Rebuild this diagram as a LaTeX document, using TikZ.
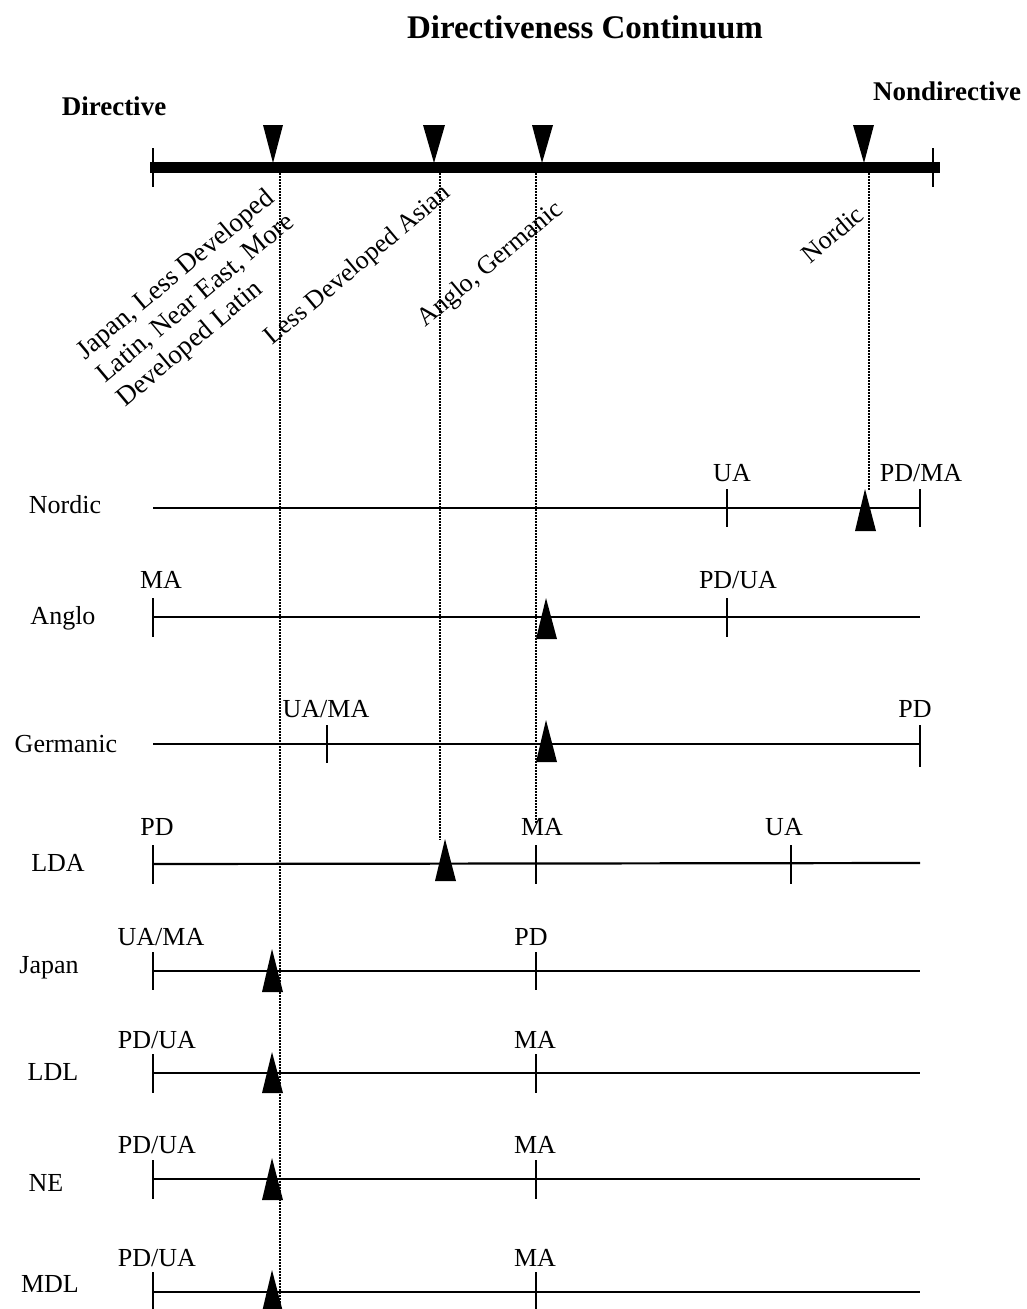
\documentclass[tikz,border=0pt]{standalone}
\usepackage{fontspec}
\setmainfont{Liberation Serif}
\begin{document}
\begin{tikzpicture}[x=1pt,y=-1pt,
  lbl/.style={font=\fontsize{26}{31}\selectfont, inner sep=0pt, anchor=base},
  boldlbl/.style={font=\fontsize{27}{32}\selectfont\bfseries, inner sep=0pt, anchor=base},
  rotlbl/.style={font=\fontsize{26}{31}\selectfont, inner sep=0pt, rotate=40},
  mainbar/.style={line width=11pt},
  bartick/.style={line width=2pt},
  rowline/.style={line width=2.2pt},
  rowtick/.style={line width=1.6pt},
  guide/.style={line width=2pt, dash pattern=on 2pt off 1pt},
  tri/.style={fill=black}]
\useasboundingbox (0,0) rectangle (1026,1309);
\clip (0,0) rectangle (1026,1309);

% title and ends
\node[font=\fontsize{33}{40}\selectfont\bfseries, inner sep=0pt, anchor=base] (title) at (585,38) {Directiveness Continuum};
\node[boldlbl] (dir) at (114,115) {Directive};
\node[boldlbl] (nondir) at (947,100) {Nondirective};

% main bar
\coordinate (barL) at (150,167);
\coordinate (barR) at (940,167);
\draw[mainbar] (barL) -- (barR);
\draw[bartick] (153,148) -- (153,187);
\draw[bartick] (933,148) -- (933,187);

% down triangles
\fill[tri] (263,125) -- (283,125) -- (273,163) -- cycle;
\fill[tri] (423,125) -- (445,125) -- (434,163) -- cycle;
\fill[tri] (532,125) -- (553,125) -- (542,163) -- cycle;
\fill[tri] (853,125) -- (874,125) -- (864,163) -- cycle;

% rotated labels
\node[rotlbl, font=\fontsize{27}{31}\selectfont, align=left, anchor=west] (cl1) at (101,379) {Japan, Less Developed\\Latin, Near East, More\\Developed Latin};
\node[rotlbl, anchor=center] (cl2) at (358,266) {Less Developed Asian};
\node[rotlbl, anchor=center] (cl3) at (491,265) {Anglo, Germanic};
\node[rotlbl, anchor=center] (cl4) at (832,234) {Nordic};

% guide coordinates
\coordinate (g1top) at (280,173);
\coordinate (g1bot) at (280,1309);
\coordinate (g2top) at (440,173);
\coordinate (g2bot) at (440,840);
\coordinate (g3top) at (536,173);
\coordinate (g3bot) at (536,823);
\coordinate (g4top) at (869,173);
\coordinate (g4bot) at (869,490);
\draw[guide] (g1top) -- (g1bot);
\draw[guide] (g2top) -- (g2bot);
\draw[guide] (g3top) -- (g3bot);
\draw[guide] (g4top) -- (g4bot);

% Nordic row
\node[lbl] (rNordic) at (65,513) {Nordic};
\draw[rowline] (153,508) -- (920,508);
\draw[rowtick] (727,489) -- (727,527);
\draw[rowtick] (920,489) -- (920,527);
\node[lbl] (nUA) at (732,481) {UA};
\node[lbl] (nPDMA) at (921,481) {PD/MA};
\fill[tri] (855,531) -- (876,531) -- (865,489) -- cycle;

% Anglo row
\node[lbl] (rAnglo) at (63,624) {Anglo};
\draw[rowline] (153,617) -- (920,617);
\draw[rowtick] (153,598) -- (153,637);
\draw[rowtick] (727,598) -- (727,637);
\node[lbl] (aMA) at (161,588) {MA};
\node[lbl] (aPDUA) at (738,588) {PD/UA};
\fill[tri] (536,639) -- (557,639) -- (546,598) -- cycle;

% Germanic row
\node[lbl] (rGermanic) at (66,752) {Germanic};
\draw[rowline] (153,744) -- (920,744);
\draw[rowtick] (327,725) -- (327,763);
\draw[rowtick] (920,725) -- (920,767);
\node[lbl] (gUAMA) at (326,717) {UA/MA};
\node[lbl] (gPD) at (915,717) {PD};
\fill[tri] (536,762) -- (557,762) -- (546,720) -- cycle;

% LDA row
\node[lbl] (rLDA) at (58,871) {LDA};
\draw[rowline] (153,864) -- (920,863);
\draw[rowtick] (153,845) -- (153,884);
\draw[rowtick] (536,845) -- (536,884);
\draw[rowtick] (791,845) -- (791,884);
\node[lbl] (lPD) at (157,835) {PD};
\node[lbl] (lMA) at (542,835) {MA};
\node[lbl] (lUA) at (784,835) {UA};
\fill[tri] (435,881) -- (456,881) -- (445,839) -- cycle;

% Japan row
\node[lbl] (rJapan) at (49,973) {Japan};
\draw[rowline] (153,971) -- (920,971);
\draw[rowtick] (153,952) -- (153,990);
\draw[rowtick] (536,952) -- (536,990);
\node[lbl] (jUAMA) at (161,945) {UA/MA};
\node[lbl] (jPD) at (531,945) {PD};
\fill[tri] (262,992) -- (283,992) -- (272,949) -- cycle;

% LDL row
\node[lbl] (rLDL) at (53,1080) {LDL};
\draw[rowline] (153,1073) -- (920,1073);
\draw[rowtick] (153,1054) -- (153,1093);
\draw[rowtick] (536,1054) -- (536,1093);
\node[lbl] (ldPDUA) at (157,1048) {PD/UA};
\node[lbl] (ldMA) at (535,1048) {MA};
\fill[tri] (262,1093) -- (283,1093) -- (272,1052) -- cycle;

% NE row
\node[lbl] (rNE) at (46,1191) {NE};
\draw[rowline] (153,1179) -- (920,1179);
\draw[rowtick] (153,1160) -- (153,1199);
\draw[rowtick] (536,1160) -- (536,1199);
\node[lbl] (nePDUA) at (157,1153) {PD/UA};
\node[lbl] (neMA) at (535,1153) {MA};
\fill[tri] (262,1200) -- (283,1200) -- (272,1158) -- cycle;

% MDL row
\node[lbl] (rMDL) at (50,1292) {MDL};
\draw[rowline] (153,1292) -- (920,1292);
\draw[rowtick] (153,1272) -- (153,1312);
\draw[rowtick] (536,1272) -- (536,1312);
\node[lbl] (mPDUA) at (157,1266) {PD/UA};
\node[lbl] (mMA) at (535,1266) {MA};
\fill[tri] (262,1312) -- (283,1312) -- (272,1270) -- cycle;
\end{tikzpicture}
\end{document}
